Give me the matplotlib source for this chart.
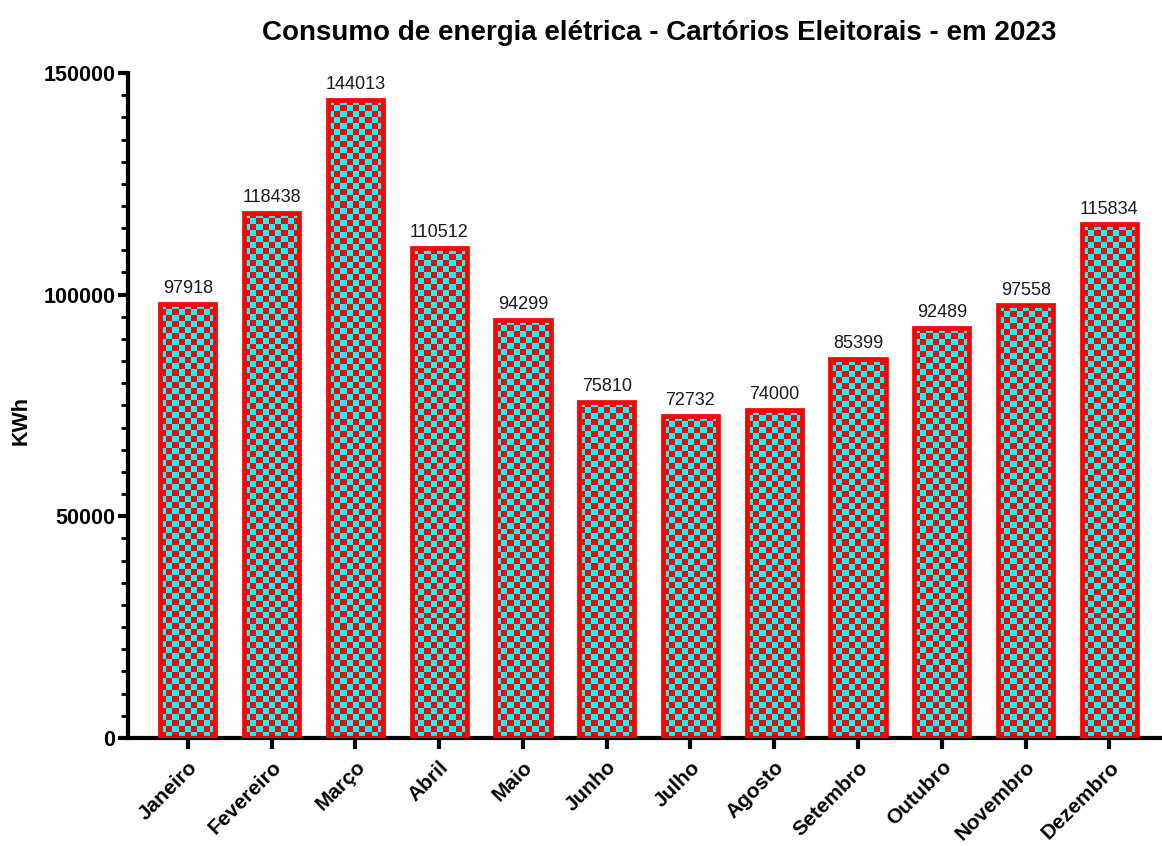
import numpy as np
import matplotlib
matplotlib.use("Agg")
import matplotlib.pyplot as plt
from matplotlib.ticker import MultipleLocator

months = ["Janeiro", "Fevereiro", "Março", "Abril", "Maio", "Junho", "Julho",
          "Agosto", "Setembro", "Outubro", "Novembro", "Dezembro"]
values = [97918, 118438, 144013, 110512, 94299, 75810, 72732, 74000,
          85399, 92489, 97558, 115834]
title = "Consumo de energia elétrica - Cartórios Eleitorais - em 2023"
ylabel = "KWh"

plt.rcParams['font.family'] = ['Liberation Sans', 'DejaVu Sans']

fig = plt.figure(figsize=(11.62, 8.46), dpi=100)
ax = fig.add_axes([0.110, 0.1277, 0.888, 0.786])

x = np.arange(len(months))
bw = 0.66
bars = ax.bar(x, values, width=bw, facecolor='none', edgecolor='#ff0000',
              linewidth=3.4, zorder=3)

ax.set_xlim(-0.716, 11.6)
ax.set_ylim(0, 150000)

# checkerboard texture inside each bar
fig.canvas.draw()
cell_px = 6.0
for rect in bars:
    x0, y0 = rect.get_x(), rect.get_y()
    w, h = rect.get_width(), rect.get_height()
    p0 = ax.transData.transform((x0, y0))
    p1 = ax.transData.transform((x0 + w, y0 + h))
    nc = max(1, int(round(abs(p1[0] - p0[0]) / cell_px)))
    nr = max(1, int(round(abs(p1[1] - p0[1]) / cell_px)))
    ii, jj = np.indices((nr, nc))
    chk = (ii + jj) % 2
    img = np.zeros((nr, nc, 3))
    img[chk == 0] = [1.0, 0.0, 0.0]
    img[chk == 1] = [0.0, 1.0, 1.0]
    im = ax.imshow(img, extent=(x0, x0 + w, y0, y0 + h), origin='lower',
                   interpolation='nearest', aspect='auto', zorder=2)
    im.set_clip_path(rect)
ax.set_xlim(-0.716, 11.6)
ax.set_ylim(0, 150000)

ax.bar_label(bars, labels=[str(v) for v in values], padding=5, fontsize=13,
             color='#1a1a1a')

ax.spines['top'].set_visible(False)
ax.spines['right'].set_visible(False)
for s in ['left', 'bottom']:
    ax.spines[s].set_linewidth(3)
ax.set_xticks(x)
ax.set_xticklabels(months, rotation=45, ha='right', rotation_mode='anchor',
                   fontsize=15, fontweight='bold')
ax.yaxis.set_major_locator(MultipleLocator(50000))
ax.yaxis.set_minor_locator(MultipleLocator(5000))
ax.tick_params(axis='y', which='major', length=7, width=3, labelsize=15.5, pad=2)
ax.tick_params(axis='y', which='minor', length=5, width=2)
ax.tick_params(axis='x', which='major', length=8, width=3, pad=6)
for lab in ax.get_yticklabels():
    lab.set_fontweight('bold')
ax.set_ylabel(ylabel, fontsize=15.5, fontweight='bold')
ax.yaxis.set_label_coords(-0.093, 0.477)
ax.set_title(title, fontsize=20, fontweight='bold', pad=24, x=0.5145)

fig.savefig("out.png", dpi=100)
